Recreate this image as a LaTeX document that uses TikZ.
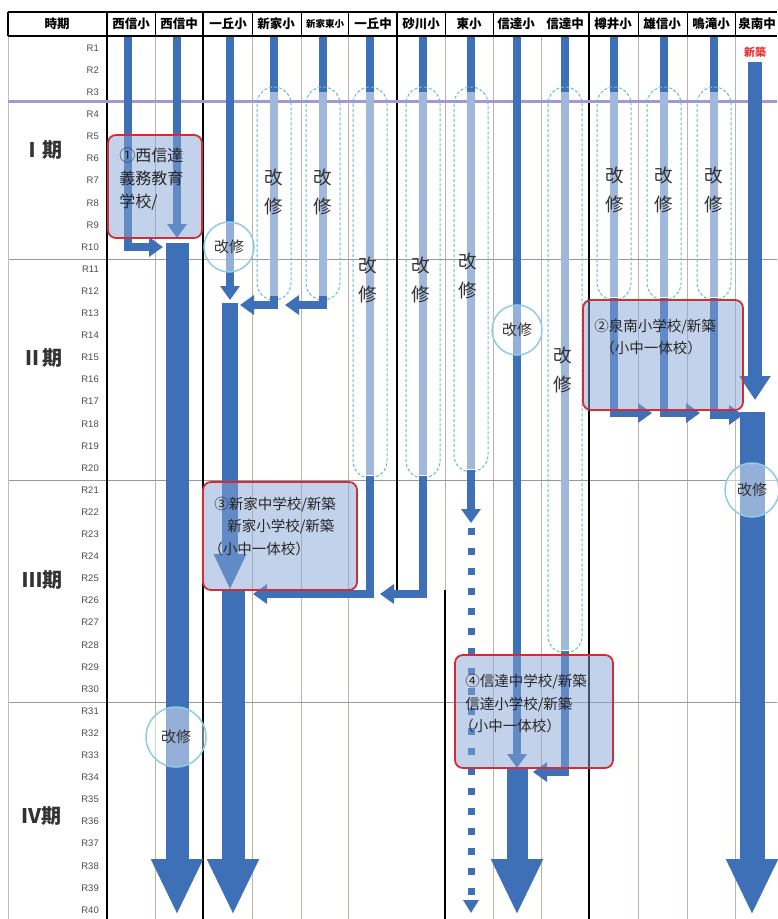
\documentclass[tikz,border=0pt]{standalone}
\usepackage{fontspec}
\usepackage{tikz}
\usetikzlibrary{arrows.meta}
\newfontfamily\jp{Noto Sans CJK JP}
\newfontfamily\lat{Liberation Sans}
\definecolor{barblue}{RGB}{62,112,184}
\definecolor{lightbar}{RGB}{160,184,220}
\definecolor{capline}{RGB}{100,185,212}
\definecolor{ringline}{RGB}{140,205,225}
\definecolor{boxred}{RGB}{208,45,55}
\definecolor{boxfill}{RGB}{135,165,215}
\definecolor{gridline}{RGB}{192,178,168}
\definecolor{purpleline}{RGB}{165,150,212}
\definecolor{newred}{RGB}{228,50,50}
\tikzstyle{bar}=[draw=barblue, line width=8pt]
\tikzstyle{lbar}=[draw=lightbar, line width=8pt]
\tikzstyle{arr}=[-{Triangle[width=19pt,length=14pt]}]
\tikzstyle{wide}=[draw=barblue, line width=23pt, -{Triangle[width=48pt,length=56pt]}]
\tikzstyle{capsule}=[draw=capline, densely dashed, line width=1pt, rounded corners=17pt]
\tikzstyle{ring}=[circle, draw=ringline, line width=1.5pt, fill=white, fill opacity=0.45, text opacity=1, inner sep=0pt, text=black!80, font=\jp\fontsize{15}{15}\selectfont]
\tikzstyle{plan}=[draw=boxred, line width=1.8pt, rounded corners=8pt, fill=boxfill, fill opacity=0.5, inner sep=0pt]
\tikzstyle{plantext}=[anchor=north west, inner sep=0pt, align=left, text=black!85]
\tikzstyle{kaishu}=[font=\jp\fontsize{18.5}{29}\selectfont, align=center, text=black!80]
\tikzstyle{head}=[font=\jp\bfseries\fontsize{12.5}{12.5}\selectfont]
\tikzstyle{rlab}=[anchor=east, inner sep=0pt, text=black!70, font=\lat\fontsize{9.5}{9.5}\selectfont]
\tikzstyle{period}=[font=\jp\bfseries\fontsize{20}{20}\selectfont, text=black!80]
\tikzstyle{grid}=[draw=gridline, line width=0.8pt]

\begin{document}
\begin{tikzpicture}[x=1pt, y=-1pt]
\useasboundingbox (0,0) rectangle (777,919);
\draw[line width=1.6pt] (8,12) -- (777,12);
\draw[line width=1.2pt] (8,12) -- (8,36);
\foreach \x in {155,252,301,348,445,493,638,687,735} \draw[line width=1pt] (\x,12) -- (\x,36);
\foreach \x in {155,252,301,348,493,541,638,687,735} \draw[grid] (\x,36) -- (\x,919);
\draw[grid] (445,36) -- (445,590);
\foreach \y in {259,480,702} \draw[draw=gray!80, line width=0.8pt] (8,\y) -- (777,\y);
\draw[draw=gray!50] (8,36) -- (8,919);
\foreach \x in {107,203,589} \draw[line width=1.6pt] (\x,12) -- (\x,919);
\draw[line width=1.6pt] (397,12) -- (397,590);
\draw[line width=1.6pt] (445,590) -- (445,919);
\draw[line width=2pt] (8,36) -- (777,36);
\draw[draw=purpleline, line width=3pt] (8,101) -- (777,101);

\node[head] (h0) at (57,24) {時期};
\node[head] (h1) at (131,24) {西信小};
\node[head] (h2) at (179,24) {西信中};
\node[head] (h3) at (228,24) {一丘小};
\node[head] (h4) at (276,24) {新家小};
\node[head, font=\jp\bfseries\fontsize{9.5}{9.5}\selectfont] (h5) at (325,24) {新家東小};
\node[head] (h6) at (373,24) {一丘中};
\node[head] (h7) at (421,24) {砂川小};
\node[head] (h8) at (469,24) {東小};
\node[head] (h9) at (516,24) {信達小};
\node[head] (h10) at (565,24) {信達中};
\node[head] (h11) at (613,24) {樽井小};
\node[head] (h12) at (662,24) {雄信小};
\node[head] (h13) at (711,24) {鳴滝小};
\node[head] (h14) at (757,24) {泉南中};

\foreach \i in {1,...,40} \node[rlab] (r\i) at (99,{37+22.1*(\i-0.5)}) {R\i};
\node[period] (p1) at (43,150) {Ⅰ期};
\node[period] (p2) at (43,358) {Ⅱ期};
\node[period] (p3) at (43,580) {Ⅲ期};
\node[period] (p4) at (41,816) {Ⅳ期};

\foreach \x/\b in {274/300, 323/300, 370/478, 423/478, 471/472, 565/653, 614/300, 664/300, 714/300} {
  \draw[bar] (\x,37) -- (\x,92);
  \draw[lbar] (\x,92) -- (\x,\b-3);
  \draw[capsule] (\x-17,87) rectangle (\x+17,\b);
}
\node[kaishu] (k4) at (274,192) {改\\修};
\node[kaishu] (k5) at (323,192) {改\\修};
\node[kaishu] (k6) at (368,280) {改\\修};
\node[kaishu] (k7) at (421,280) {改\\修};
\node[kaishu] (k8) at (468,276) {改\\修};
\node[kaishu] (k10) at (563,370) {改\\修};
\node[kaishu] (k11) at (615,190) {改\\修};
\node[kaishu] (k12) at (664,190) {改\\修};
\node[kaishu] (k13) at (714,190) {改\\修};

\coordinate (s1) at (128,37);   \coordinate (e1) at (163,247);
\coordinate (s2) at (177,37);   \coordinate (e2) at (177,238);
\coordinate (w2) at (177,243);  \coordinate (f2) at (177,915);
\coordinate (s3) at (230,37);   \coordinate (e3) at (230,300);
\coordinate (m3) at (230,303);  \coordinate (n3) at (230,590);
\coordinate (w3) at (233,590);  \coordinate (f3) at (233,915);
\coordinate (s4) at (274,296);  \coordinate (e4) at (240,305);
\coordinate (s5) at (323,296);  \coordinate (e5) at (285,305);
\coordinate (s6) at (370,476);  \coordinate (e6) at (253,594);
\coordinate (s7) at (423,476);  \coordinate (e7) at (380,594);
\coordinate (s8) at (471,470);  \coordinate (e8) at (471,523);
\coordinate (d8) at (471,528);  \coordinate (f8) at (471,913);
\coordinate (s9) at (517,37);   \coordinate (e9) at (517,768);
\coordinate (w9) at (517,768);  \coordinate (f9) at (517,915);
\coordinate (s10) at (565,651); \coordinate (e10) at (533,772);
\coordinate (s11) at (614,298); \coordinate (e11) at (652,413);
\coordinate (s12) at (664,298); \coordinate (e12) at (700,413);
\coordinate (s13) at (714,298); \coordinate (e13) at (743,415);
\coordinate (s14) at (755,62);  \coordinate (e14) at (755,400);
\coordinate (w14) at (752,412); \coordinate (f14) at (752,915);

\draw[bar, arr] (s1) |- (e1);
\draw[bar, arr] (s2) -- (e2);
\draw[wide] (w2) -- (f2);
\draw[bar, arr] (s3) -- (e3);
\draw[draw=barblue, line width=16pt, -{Triangle[width=30pt,length=36pt]}] (m3) -- (n3);
\draw[wide] (w3) -- (f3);
\draw[bar, arr] (s4) |- (e4);
\draw[bar, arr] (s5) |- (e5);
\draw[bar, arr] (s6) |- (e6);
\draw[bar, arr] (s7) |- (e7);
\draw[bar, arr] (s8) -- (e8);
\draw[draw=barblue, line width=7pt, dash pattern=on 7pt off 13pt, -{Triangle[width=15pt,length=13pt]}] (d8) -- (f8);
\draw[bar, arr] (s9) -- (e9);
\draw[wide, line width=21pt] (w9) -- (f9);
\draw[bar, arr] (s10) |- (e10);
\draw[bar, arr] (s11) |- (e11);
\draw[bar, arr] (s12) |- (e12);
\draw[bar, arr] (s13) |- (e13);
\draw[draw=barblue, line width=14pt, -{Triangle[width=30pt,length=24pt]}] (s14) -- (e14);
\draw[wide, line width=25pt] (w14) -- (f14);
\node[text=newred, font=\jp\bfseries\fontsize{11}{11}\selectfont] (new14) at (755,52) {新築};

\node[ring, minimum size=60pt] (c2) at (176,737) {改修};
\node[ring, minimum size=50pt] (c3) at (229,247) {改修};
\node[ring, minimum size=50pt] (c9) at (517,330) {改修};
\node[ring, minimum size=54pt] (c14) at (752,490) {改修};

\node[plan, minimum width=94pt, minimum height=103pt] (box1) at (155,186.5) {};
\node[plan, minimum width=160pt, minimum height=110pt] (box2) at (663,355) {};
\node[plan, minimum width=154pt, minimum height=108pt] (box3) at (280,536) {};
\node[plan, minimum width=158pt, minimum height=113pt] (box4) at (534,711.5) {};
\node[plantext, font=\jp\fontsize{16}{23}\selectfont] (t1) at ([shift={(12,14)}]box1.north west) {①西信達\\義務教育\\学校/};
\node[plantext, font=\jp\fontsize{14.5}{22}\selectfont] (t2) at ([shift={(12,20)}]box2.north west) {②泉南小学校/新築\\\hspace*{6pt}（小中一体校）};
\node[plantext, font=\jp\fontsize{14.5}{22.5}\selectfont] (t3) at ([shift={(12,15.5)}]box3.north west) {③新家中学校/新築\\\hspace*{13pt}新家小学校/新築\\\hspace*{-6pt}（小中一体校）};
\node[plantext, font=\jp\fontsize{14.5}{22.5}\selectfont] (t4) at ([shift={(11,20)}]box4.north west) {④信達中学校/新築\\信達小学校/新築\\\hspace*{-6pt}（小中一体校）};
\end{tikzpicture}
\end{document}
